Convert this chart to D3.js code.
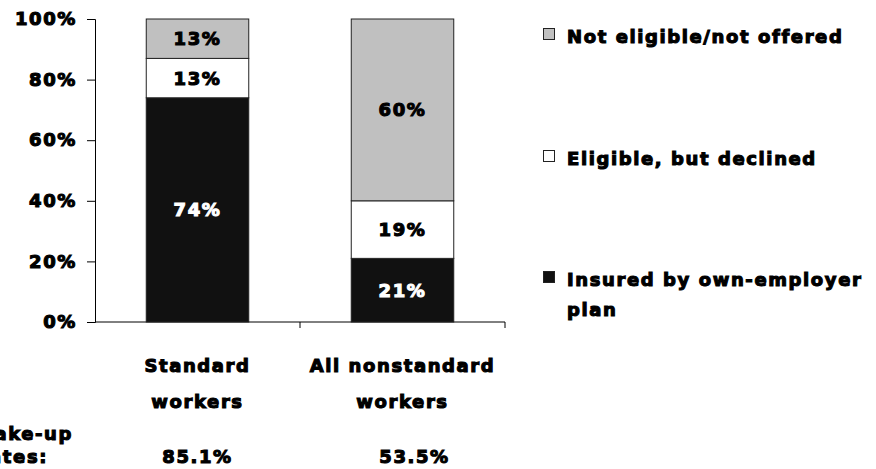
<!DOCTYPE html>
<html><head><meta charset="utf-8">
<script src="https://cdn.jsdelivr.net/npm/d3@7"></script>
<style>body{margin:0;background:#fff}svg{display:block}
text{font-family:"DejaVu Sans",sans-serif;font-weight:bold;font-size:18px;letter-spacing:1.6px;stroke-width:1.1px;paint-order:stroke}
</style>
</head><body><svg id="c" width="876" height="469"></svg>
<script>
const categories = ["Standard workers", "All nonstandard workers"];
const categoryLines = [["Standard", "workers"], ["All nonstandard", "workers"]];
const seriesNames = ["Insured by own-employer plan", "Eligible, but declined", "Not eligible/not offered"];
const insured = [74, 21];
const declined = [13, 19];
const notEligible = [13, 60];
const takeUpRates = ["85.1%", "53.5%"];
const yTicks = [0, 20, 40, 60, 80, 100];
const colors = ["#111111", "#ffffff", "#c0c0c0"];
const labelColors = ["#ffffff", "#000000", "#000000"];

const svg = d3.select("#c");
const y = d3.scaleLinear().domain([0, 100]).range([322, 19]);
const x = d3.scaleBand().domain(categories).range([95, 505]).paddingInner(0.5).paddingOuter(0.25);

function styleText(sel, color) {
  sel.style("fill", color).style("stroke", color);
}

// y axis
const yAxis = d3.axisLeft(y).tickValues(yTicks).tickFormat(d => d + "%").tickSize(8).tickPadding(10);
const gy = svg.append("g").attr("transform", "translate(95,0)").call(yAxis);
gy.attr("font-size", null).attr("font-family", null);
gy.select(".domain").attr("stroke", "#000");
gy.selectAll(".tick line").attr("stroke", "#000");
styleText(gy.selectAll(".tick text").attr("fill", null), "#000");

// x axis line with ticks between categories
const gx = svg.append("g").attr("transform", "translate(0,322)");
gx.append("line").attr("x1", 95).attr("x2", 505).attr("stroke", "#000");
const bounds = [x.range()[0] + (x.range()[1]-x.range()[0])/2, x.range()[1]];
gx.selectAll(".xt").data(bounds).join("line").attr("x1", d => d).attr("x2", d => d).attr("y1", 0).attr("y2", 6).attr("stroke", "#000");

// stacked data
const rows = categories.map((c, i) => ({cat: c, s0: insured[i], s1: declined[i], s2: notEligible[i]}));
const stack = d3.stack().keys(["s0", "s1", "s2"])(rows);
stack.forEach((layer, li) => {
  const g = svg.append("g");
  g.selectAll("rect").data(layer).join("rect")
    .attr("x", d => x(d.data.cat)).attr("width", x.bandwidth())
    .attr("y", d => y(d[1])).attr("height", d => y(d[0]) - y(d[1]))
    .attr("fill", colors[li]).attr("stroke", "#222").attr("stroke-width", 1);
  styleText(g.selectAll("text").data(layer).join("text")
    .attr("x", d => x(d.data.cat) + x.bandwidth()/2)
    .attr("y", d => (y(d[0]) + y(d[1]))/2)
    .attr("dy", "0.36em").attr("text-anchor", "middle")
    .text(d => (d[1]-d[0]) + "%"), labelColors[li]);
});

// category labels
categoryLines.forEach((lines, i) => {
  const cx = x(categories[i]) + x.bandwidth()/2;
  lines.forEach((l, j) => {
    styleText(svg.append("text").attr("x", cx).attr("y", 372 + j*36).attr("text-anchor", "middle").text(l), "#000");
  });
});

// take-up rates
styleText(svg.append("text").attr("x", 73).attr("y", 440).attr("text-anchor", "end").text("Take-up"), "#000");
styleText(svg.append("text").attr("x", 48).attr("y", 463).attr("text-anchor", "end").text("rates:"), "#000");
takeUpRates.forEach((t, i) => {
  const cx = x(categories[i]) + x.bandwidth()/2 + (i === 1 ? 12 : 0);
  styleText(svg.append("text").attr("x", cx).attr("y", 463).attr("text-anchor", "middle").text(t), "#000");
});

// legend
const legendItems = [
  {name: ["Not eligible/not offered"], color: colors[2], y: 43},
  {name: ["Eligible, but declined"], color: colors[1], y: 165},
  {name: ["Insured by own-employer", "plan"], color: colors[0], y: 286}
];
legendItems.forEach(it => {
  svg.append("rect").attr("x", 543.5).attr("y", it.y - 14.5).attr("width", 11).attr("height", 11)
    .attr("fill", it.color).attr("stroke", "#222");
  it.name.forEach((n, j) => {
    styleText(svg.append("text").attr("x", 567).attr("y", it.y + j*30).text(n), "#000");
  });
});
</script></body></html>
